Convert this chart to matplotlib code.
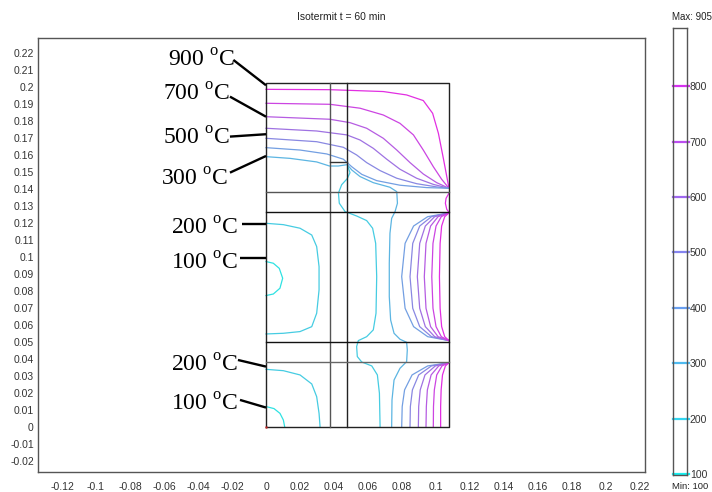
import matplotlib
matplotlib.use("Agg")
import matplotlib.pyplot as plt
from matplotlib import colors

plt.rcParams['font.family'] = ['Liberation Sans', 'DejaVu Sans']
plt.rcParams['mathtext.fontset'] = 'custom'
plt.rcParams['mathtext.rm'] = 'Liberation Serif'

title_text = "Isotermit t = 60 min"
cbar_ticks = [100, 200, 300, 400, 500, 600, 700, 800]
cbar_max_text = "Max: 905"
cbar_min_text = "Min: 100"

x_ticks = [-0.12, -0.1, -0.08, -0.06, -0.04, -0.02, 0, 0.02, 0.04, 0.06, 0.08, 0.1,
           0.12, 0.14, 0.16, 0.18, 0.2, 0.22]
x_tick_labels = ["-0.12", "-0.1", "-0.08", "-0.06", "-0.04", "-0.02", "0", "0.02", "0.04",
                 "0.06", "0.08", "0.1", "0.12", "0.14", "0.16", "0.18", "0.2", "0.22"]
y_ticks = [-0.02, -0.01, 0, 0.01, 0.02, 0.03, 0.04, 0.05, 0.06, 0.07, 0.08, 0.09, 0.1,
           0.11, 0.12, 0.13, 0.14, 0.15, 0.16, 0.17, 0.18, 0.19, 0.2, 0.21, 0.22]
y_tick_labels = ["-0.02", "-0.01", "0", "0.01", "0.02", "0.03", "0.04", "0.05", "0.06",
                 "0.07", "0.08", "0.09", "0.1", "0.11", "0.12", "0.13", "0.14", "0.15",
                 "0.16", "0.17", "0.18", "0.19", "0.2", "0.21", "0.22"]

# geometry of the section (m)
box_w = 0.1076
box_h = 0.2022
vert_lines_x = [0.0376, 0.0475]
horiz_lines_y = [0.0384, 0.0502, 0.1263, 0.1380]
gap_top_y = 0.1557

# ---- isotherms (x, y in m) ----
iso900_top_x = [0, 0.0376, 0.0690, 0.0827, 0.0925, 0.0980, 0.1014, 0.1043, 0.1067, 0.1076]
iso900_top_y = [0.1986, 0.1984, 0.1973, 0.1953, 0.1920, 0.1845, 0.1727, 0.1580, 0.1453, 0.1404]
iso800_top_x = [0, 0.0376, 0.0553, 0.0690, 0.0788, 0.0867, 0.0925, 0.0984, 0.1033, 0.1076]
iso800_top_y = [0.1904, 0.1898, 0.1875, 0.1835, 0.1786, 0.1718, 0.1629, 0.1531, 0.1457, 0.1404]
iso700_top_x = [0, 0.0376, 0.0494, 0.0592, 0.0690, 0.0769, 0.0847, 0.0925, 0.1004, 0.1076]
iso700_top_y = [0.1825, 0.1810, 0.1790, 0.1757, 0.1698, 0.1629, 0.1555, 0.1488, 0.1437, 0.1404]
iso600_top_x = [0, 0.0298, 0.0475, 0.0553, 0.0631, 0.0710, 0.0788, 0.0886, 0.0984, 0.1076]
iso600_top_y = [0.1757, 0.1741, 0.1718, 0.1688, 0.1639, 0.1575, 0.1516, 0.1463, 0.1427, 0.1404]
iso500_top_x = [0, 0.0298, 0.0455, 0.0533, 0.0592, 0.0671, 0.0769, 0.0886, 0.1004, 0.1076]
iso500_top_y = [0.1698, 0.1678, 0.1645, 0.1600, 0.1555, 0.1508, 0.1463, 0.1431, 0.1412, 0.1404]
iso400_top_x = [0, 0.0200, 0.0357, 0.0455, 0.0504, 0.0563, 0.0651, 0.0788, 0.0945, 0.1076]
iso400_top_y = [0.1643, 0.1629, 0.1606, 0.1575, 0.1531, 0.1486, 0.1449, 0.1422, 0.1408, 0.1404]
iso900_band_x = [0.1076, 0.1059, 0.1055, 0.1063, 0.1076]
iso900_band_y = [0.1375, 0.1345, 0.1316, 0.1280, 0.1263]

iso300_x = [0, 0.0141, 0.0298, 0.0373, 0.0425, 0.0478, 0.0504, 0.0553, 0.0631, 0.0729,
            0.0769, 0.0773, 0.0759, 0.0739, 0.0729, 0.0725, 0.0725, 0.0733, 0.0753, 0.0788,
            0.0827, 0.0831, 0.0827, 0.0788, 0.0753, 0.0741, 0.0739]
iso300_y = [0.1590, 0.1580, 0.1559, 0.1535, 0.1535, 0.1543, 0.1512, 0.1473, 0.1437, 0.1410,
            0.1384, 0.1316, 0.1267, 0.1227, 0.1139, 0.0963, 0.0767, 0.0629, 0.0551, 0.0516,
            0.0498, 0.0453, 0.0384, 0.0345, 0.0276, 0.0159, 0.0]

iso200_x = [0.0480, 0.0494, 0.0478, 0.0445, 0.0426, 0.0431, 0.0465, 0.0533, 0.0592, 0.0627,
            0.0645, 0.0651, 0.0647, 0.0631, 0.0592, 0.0543, 0.0533, 0.0537, 0.0563, 0.0622,
            0.0655, 0.0667, 0.0671]
iso200_y = [0.1535, 0.1496, 0.1461, 0.1425, 0.1376, 0.1316, 0.1267, 0.1241, 0.1214, 0.1169,
            0.1080, 0.0884, 0.0669, 0.0571, 0.0531, 0.0508, 0.0473, 0.0414, 0.0382, 0.0359,
            0.0306, 0.0198, 0.0]

iso200_mid_x = [0, 0.0102, 0.0200, 0.0269, 0.0298, 0.0312, 0.0312, 0.0298, 0.0269, 0.0200, 0.0102, 0]
iso200_mid_y = [0.1198, 0.1190, 0.1169, 0.1129, 0.1061, 0.0943, 0.0806, 0.0669, 0.0590, 0.0561, 0.0551, 0.0547]
iso100_mid_x = [0, 0.0043, 0.0078, 0.0098, 0.0082, 0.0043, 0]
iso100_mid_y = [0.0973, 0.0963, 0.0933, 0.0875, 0.0816, 0.0782, 0.0773]
iso200_bot_x = [0, 0.0102, 0.0200, 0.0269, 0.0298, 0.0312, 0.0318]
iso200_bot_y = [0.0339, 0.0331, 0.0306, 0.0253, 0.0178, 0.0080, 0.0]
iso100_bot_x = [0, 0.0047, 0.0082, 0.0102, 0.0110]
iso100_bot_y = [0.0120, 0.0108, 0.0080, 0.0041, 0.0]

mid_arc_y = [0.1259, 0.1237, 0.1182, 0.1080, 0.0884, 0.0698, 0.0590, 0.0531, 0.0508]
iso400_mid_x = [0.1076, 0.0951, 0.0868, 0.0818, 0.0798, 0.0818, 0.0868, 0.0951, 0.1076]
iso500_mid_x = [0.1076, 0.0973, 0.0904, 0.0863, 0.0847, 0.0863, 0.0904, 0.0973, 0.1076]
iso600_mid_x = [0.1076, 0.0992, 0.0937, 0.0904, 0.0890, 0.0904, 0.0937, 0.0992, 0.1076]
iso700_mid_x = [0.1076, 0.1012, 0.0968, 0.0941, 0.0931, 0.0941, 0.0968, 0.1012, 0.1076]
iso800_mid_x = [0.1076, 0.1031, 0.1000, 0.0982, 0.0975, 0.0982, 0.1000, 0.1031, 0.1076]
iso900_mid_x = [0.1076, 0.1051, 0.1033, 0.1024, 0.1020, 0.1024, 0.1033, 0.1051, 0.1076]

bot_fan_y = [0.0378, 0.0359, 0.0306, 0.0218, 0.0120, 0.0]
iso400_bot_x = [0.1076, 0.0951, 0.0859, 0.0815, 0.0801, 0.0798]
iso500_bot_x = [0.1076, 0.0973, 0.0898, 0.0861, 0.0849, 0.0847]
iso600_bot_x = [0.1076, 0.0996, 0.0935, 0.0907, 0.0898, 0.0896]
iso700_bot_x = [0.1076, 0.1016, 0.0971, 0.0949, 0.0943, 0.0941]
iso800_bot_x = [0.1076, 0.1035, 0.1004, 0.0990, 0.0985, 0.0984]
iso900_bot_x = [0.1076, 0.1055, 0.1038, 0.1030, 0.1027, 0.1027]

isotherms = [
    (900, iso900_top_x, iso900_top_y), (800, iso800_top_x, iso800_top_y),
    (700, iso700_top_x, iso700_top_y), (600, iso600_top_x, iso600_top_y),
    (500, iso500_top_x, iso500_top_y), (400, iso400_top_x, iso400_top_y),
    (900, iso900_band_x, iso900_band_y),
    (300, iso300_x, iso300_y), (200, iso200_x, iso200_y),
    (200, iso200_mid_x, iso200_mid_y), (100, iso100_mid_x, iso100_mid_y),
    (200, iso200_bot_x, iso200_bot_y), (100, iso100_bot_x, iso100_bot_y),
    (400, iso400_mid_x, mid_arc_y), (500, iso500_mid_x, mid_arc_y),
    (600, iso600_mid_x, mid_arc_y), (700, iso700_mid_x, mid_arc_y),
    (800, iso800_mid_x, mid_arc_y), (900, iso900_mid_x, mid_arc_y),
    (400, iso400_bot_x, bot_fan_y), (500, iso500_bot_x, bot_fan_y),
    (600, iso600_bot_x, bot_fan_y), (700, iso700_bot_x, bot_fan_y),
    (800, iso800_bot_x, bot_fan_y), (900, iso900_bot_x, bot_fan_y),
]

# temperature labels and their pointer lines
label_texts = ["900", "700", "500", "300", "200", "100", "200", "100"]
label_x = [-0.0182, -0.0212, -0.0212, -0.0224, -0.0165, -0.0165, -0.0165, -0.0165]
label_y = [0.2119, 0.1918, 0.1659, 0.1418, 0.1129, 0.0924, 0.0324, 0.0094]
pointer_x0 = [-0.0192, -0.0212, -0.0212, -0.0212, -0.0143, -0.0153, -0.0165, -0.0153]
pointer_y0 = [0.2159, 0.1943, 0.1708, 0.1496, 0.1192, 0.0994, 0.0394, 0.0159]
pointer_y1 = [0.2010, 0.1825, 0.1722, 0.1594, 0.1192, 0.0994, 0.0355, 0.0114]

W, H = 712, 492
fig = plt.figure(figsize=(W / 100, H / 100), dpi=100)
ax = fig.add_axes([38 / W, 1 - 472 / H, 607 / W, 434 / H])
ax.set_xlim(-0.1341, 0.2229)
ax.set_ylim(-0.0265, 0.2288)

cmap = plt.get_cmap('cool')
norm = colors.Normalize(vmin=100, vmax=900)


def line_colour(v, k=0.3):
    r, g, b, _ = cmap(norm(v))
    grey = 0.62
    return (r * (1 - k) + grey * k, g * (1 - k) + grey * k, b * (1 - k) + grey * k)


for lev, xs, ys in isotherms:
    ax.plot(xs, ys, color=line_colour(lev), lw=0.9, solid_joinstyle='round')

# geometry
ax.plot([0, box_w, box_w, 0, 0], [0, 0, box_h, box_h, 0], color='#222222', lw=1.0)
ax.plot([vert_lines_x[0]] * 2, [0, box_h], color='#555555', lw=1.0)
ax.plot([vert_lines_x[1]] * 2, [0, box_h], color='#222222', lw=1.0)
hcols = ['#666666', '#111111', '#111111', '#555555']
for yy, cc in zip(horiz_lines_y, hcols):
    ax.plot([0, box_w], [yy, yy], color=cc, lw=1.0)
ax.plot(vert_lines_x, [gap_top_y, gap_top_y], color='#333333', lw=1.0)
ax.plot([0], [0], marker='s', ms=2, color='#cc2222', mec='none')

for t, tx, ty, x0, y0, y1 in zip(label_texts, label_x, label_y, pointer_x0, pointer_y0, pointer_y1):
    ax.text(tx, ty, t + r" $^{\mathrm{o}}$C", ha='right', va='baseline',
            fontsize=17, family='Liberation Serif', color='black')
    ax.plot([x0, 0.0], [y0, y1], color='black', lw=1.7, solid_capstyle='butt')

ax.set_xticks(x_ticks)
ax.set_xticklabels(x_tick_labels)
ax.set_yticks(y_ticks)
ax.set_yticklabels(y_tick_labels)
ax.tick_params(axis='both', length=0, labelsize=7.5, labelcolor='#333333')
ax.tick_params(axis='x', pad=7)
ax.tick_params(axis='y', pad=3)
for s in ax.spines.values():
    s.set_color('#555555')
    s.set_linewidth(1.0)

fig.text(341.5 / W, 1 - 16.5 / H, title_text, ha='center', va='center',
         fontsize=7.5, color='#222222')

# colour legend
cax = fig.add_axes([673 / W, 1 - 475 / H, 14 / W, 447 / H])
cax.set_xlim(0, 1)
cax.set_ylim(98, 905)
for v in cbar_ticks:
    cax.plot([0, 1.15], [v, v], color=line_colour(v, 0.15), lw=1.6, clip_on=False)
cax.set_xticks([])
cax.yaxis.tick_right()
cax.set_yticks(cbar_ticks)
cax.set_yticklabels([str(v) for v in cbar_ticks])
cax.tick_params(axis='y', length=0, pad=2, labelsize=7.5, labelcolor='#333333')
for s in cax.spines.values():
    s.set_color('#555555')
    s.set_linewidth(1.0)
fig.text(672 / W, 1 - 16.5 / H, cbar_max_text, ha='left', va='center', fontsize=7, color='#222222')
fig.text(672 / W, 1 - 486.5 / H, cbar_min_text, ha='left', va='center', fontsize=6.8, color='#222222')

fig.savefig('out.png', dpi=100)
